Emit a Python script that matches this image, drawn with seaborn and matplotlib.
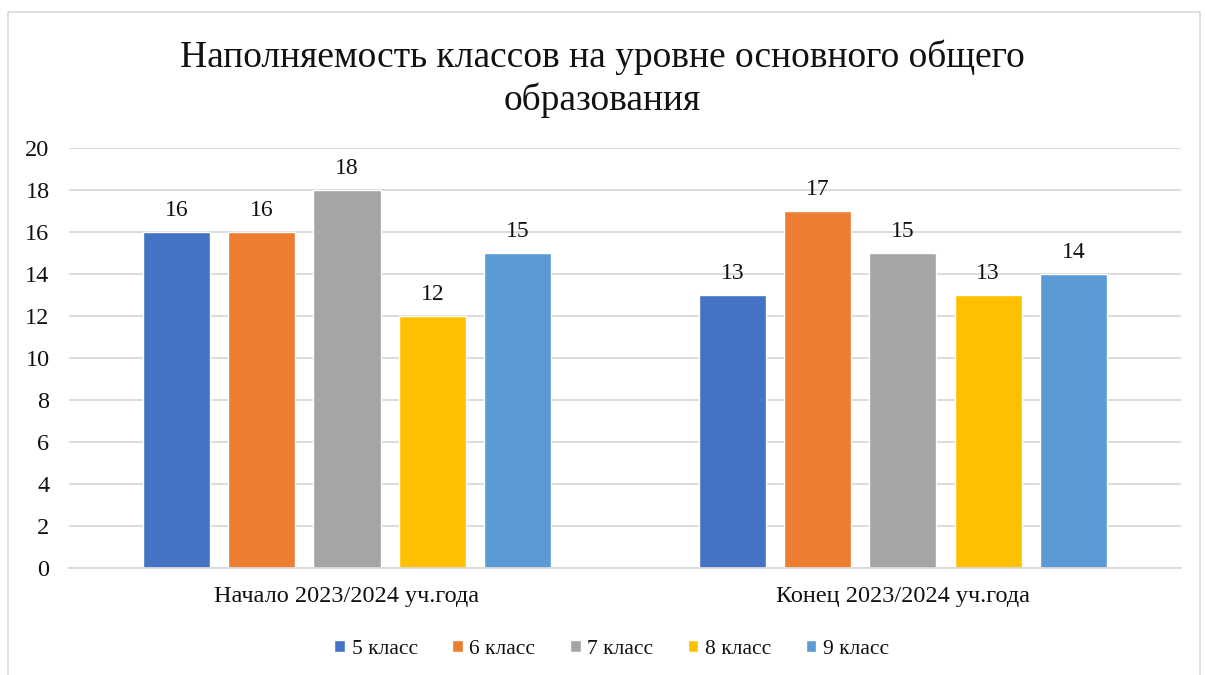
import pandas as pd
import matplotlib.pyplot as plt
import seaborn as sns
from matplotlib.patches import Rectangle

# data
periods = ['Начало 2023/2024 уч.года', 'Конец 2023/2024 уч.года']
grades = ['5 класс', '6 класс', '7 класс', '8 класс', '9 класс']
start_counts = [16, 16, 18, 12, 15]
end_counts = [13, 17, 15, 13, 14]
colors = ['#4472C4', '#ED7D31', '#A5A5A5', '#FFC000', '#5B9BD5']
title = 'Наполняемость классов на уровне основного общего\nобразования'

rows = []
for g, a, b in zip(grades, start_counts, end_counts):
    rows.append({'period': periods[0], 'grade': g, 'count': a})
    rows.append({'period': periods[1], 'grade': g, 'count': b})
df = pd.DataFrame(rows)

sns.set_style('white')
plt.rcParams['font.family'] = ['Liberation Serif', 'DejaVu Serif']

fig = plt.figure(figsize=[12.05, 6.75], dpi=100)
ax = fig.add_axes([0.0573, 0.1585, 0.9227, 0.6222])

sns.barplot(data=df, x='period', y='count', hue='grade', hue_order=grades,
            order=periods, palette=colors, width=0.767, gap=0.214,
            saturation=1, ax=ax, legend=True)

for c in ax.containers:
    ax.bar_label(c, fontsize=17, padding=8, color='#111111')

ax.set_ylim(0, 20)
ax.set_xlim(-0.5, 1.5)
ax.set_yticks(range(0, 21, 2))
ax.yaxis.grid(True, color='#d9d9d9', linewidth=1.3)
ax.set_axisbelow(True)
for s in ['top', 'right', 'left']:
    ax.spines[s].set_visible(False)
ax.spines['bottom'].set_color('#d9d9d9')
ax.spines['bottom'].set_linewidth(1.3)
ax.tick_params(axis='y', length=0, pad=14, labelsize=17.5, labelcolor='#111111')
ax.tick_params(axis='x', length=0, pad=13, labelsize=17.5, labelcolor='#111111')
ax.set_xlabel('')
ax.set_ylabel('')

ax.legend(loc='upper center', bbox_to_anchor=(0.488, -0.125), ncol=5, frameon=False,
          fontsize=15.5, handlelength=0.5, handleheight=0.5, handletextpad=0.3,
          columnspacing=1.6, labelcolor='#111111')

fig.suptitle(title, fontsize=27, y=0.942, linespacing=1.3, color='#111111')

# outer chart border
fig.patches.append(Rectangle((8 / 1205, -0.02), 1192 / 1205, 1.02 - 12 / 675,
                             transform=fig.transFigure, fill=False,
                             edgecolor='#d9d9d9', linewidth=1.2))

plt.savefig('out.png', dpi=100)
